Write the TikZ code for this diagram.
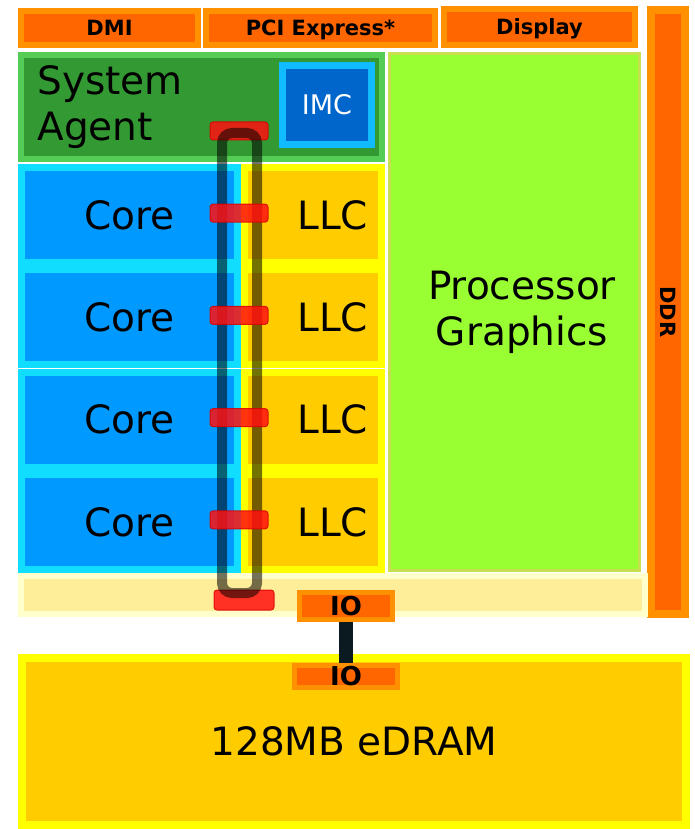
\documentclass[tikz,border=0pt]{standalone}
\usepackage{fontspec}
\setmainfont{DejaVu Sans}
\definecolor{barfill}{HTML}{FF6600}
\definecolor{barbevel}{HTML}{FF9100}
\definecolor{safill}{HTML}{339933}
\definecolor{sabevel}{HTML}{55CC55}
\definecolor{imcfill}{HTML}{0066CC}
\definecolor{imcbevel}{HTML}{11BBFF}
\definecolor{corefill}{HTML}{0099FF}
\definecolor{corebevel}{HTML}{11DDFF}
\definecolor{llcfill}{HTML}{FFCC00}
\definecolor{llcbevel}{HTML}{FFFF00}
\definecolor{gfxfill}{HTML}{99FF33}
\definecolor{gfxedge}{HTML}{C8E050}
\definecolor{stripfill}{HTML}{FFEE99}
\definecolor{stripbevel}{HTML}{FFFFCC}
\definecolor{linkcolor}{HTML}{0A1A20}
\definecolor{stopred}{HTML}{FF1010}
\tikzstyle{bigtext}=[font=\fontsize{39}{46}\selectfont]
\tikzstyle{bartext}=[font=\bfseries\fontsize{21}{21}\selectfont]
\tikzstyle{portbar}=[bartext, draw=barbevel, fill=barfill, line width=6pt, inner sep=0pt, text height=15pt, text depth=0pt]
\tikzstyle{agentbox}=[bigtext, draw=sabevel, fill=safill, line width=6pt, inner sep=0pt]
\tikzstyle{imcbox}=[font=\fontsize{27}{27}\selectfont, text=white, draw=imcbevel, fill=imcfill, line width=7pt, inner sep=0pt]
\tikzstyle{corebox}=[bigtext, draw=corebevel, fill=corefill, line width=7pt, inner sep=0pt, minimum width=216pt, minimum height=95pt]
\tikzstyle{llcbox}=[bigtext, draw=llcbevel, fill=llcfill, line width=7pt, inner sep=0pt, minimum width=137pt, minimum height=95pt, text width=110pt, align=right]
\tikzstyle{gfxbox}=[bigtext, draw=gfxedge, fill=gfxfill, line width=3pt, inner sep=0pt, align=center]
\tikzstyle{stripbox}=[draw=stripbevel, fill=stripfill, line width=6pt, inner sep=0pt]
\tikzstyle{edrambox}=[bigtext, draw=llcbevel, fill=llcfill, line width=8pt, inner sep=0pt]
\tikzstyle{iobox}=[font=\bfseries\fontsize{26}{26}\selectfont, draw=barbevel, fill=barfill, line width=5pt, inner sep=0pt]
\tikzstyle{stopmark}=[fill=stopred, draw=red!85!black, line width=1pt, fill opacity=0.85, draw opacity=0.85, rounded corners=3pt, inner sep=0pt, minimum width=58pt, minimum height=18pt]
\tikzstyle{ring}=[draw=black, draw opacity=0.55, line width=10pt, rounded corners=10pt, inner sep=0pt]
\tikzstyle{link}=[draw=linkcolor, line width=14pt]

\begin{document}
\begin{tikzpicture}[x=1pt, y=-1pt]
	\useasboundingbox (0,0) rectangle (695,829);
	\node[portbar, minimum width=177pt, minimum height=34pt] (dmi) at (109.5,28) {DMI};
	\node[portbar, minimum width=229pt, minimum height=34pt] (pcie) at (320.5,28) {PCI Express*};
	\node[portbar, minimum width=191pt, minimum height=36pt] (display) at (539.5,27) {Display};
	\node[portbar, line width=8pt, minimum width=34pt, minimum height=604pt] (ddr) at (668,312) {};
	\node[bartext, rotate=-90] (ddrlabel) at (668,312) {DDR};
	\node[agentbox, minimum width=361pt, minimum height=104pt] (agent) at (201.5,107) {};
	\node[bigtext, anchor=west, align=left] (agentlabel) at (34,107) {System\\Agent};
	\node[imcbox, minimum width=89pt, minimum height=79pt] (imc) at (327,105) {IMC};
	\node[gfxbox, minimum width=250pt, minimum height=517pt] (gfx) at (514.5,312) {\hspace*{15pt}Processor\\\hspace*{15pt}Graphics};
	\foreach \i in {0,...,3} {
		\pgfmathsetmacro{\yc}{215.125+102.25*\i}
		\node[corebox] (core\i) at (129.5,\yc) {Core};
		\node[llcbox] (llc\i) at (313,\yc) {LLC};
	}
	\node[stripbox, minimum width=624pt, minimum height=38pt] (strip) at (333,595) {};
	\node[edrambox, minimum width=664pt, minimum height=167pt] (edram) at (354,741.5) {128MB eDRAM};
	\node[iobox, minimum width=93pt, minimum height=27pt] (iotop) at (346,606) {IO};
	\node[iobox, minimum width=103pt, minimum height=22pt] (iobot) at (346,676.5) {IO};
	\draw[link] (iotop.south) -- (iobot.north);
	\node[stopmark] (stopsa) at (239,131) {};
	\node[stopmark, minimum width=60pt, minimum height=20pt] (stopio) at (244,600) {};
	\node[ring, minimum width=35pt, minimum height=460pt] (ringbus) at (239.5,363) {};
	\foreach \i in {0,...,3} {
		\node[stopmark] (stop\i) at ([yshift=2pt]core\i.center -| stopsa) {};
	}
\end{tikzpicture}
\end{document}
